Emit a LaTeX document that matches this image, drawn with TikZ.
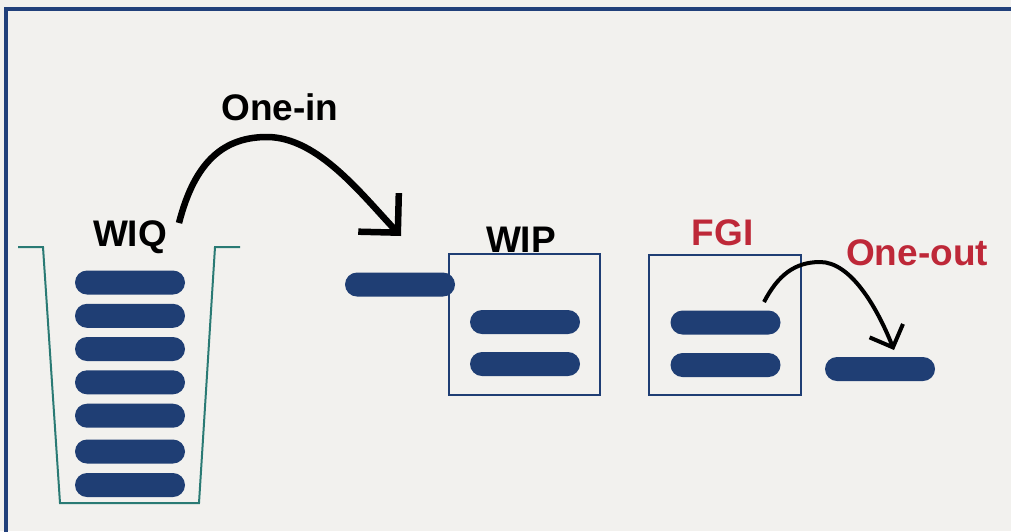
\documentclass[tikz,border=0pt]{standalone}
\usepackage{fontspec}
\setmainfont{Liberation Sans}
\usetikzlibrary{arrows.meta}

\definecolor{paper}{RGB}{242,241,238}
\definecolor{navy}{RGB}{31,62,116}
\definecolor{framec}{RGB}{33,64,122}
\definecolor{bucket}{RGB}{42,122,116}
\definecolor{alert}{RGB}{190,40,56}

\tikzset{
  pill/.style={rectangle, fill=navy, minimum width=110pt, minimum height=24pt,
               rounded corners=12pt, inner sep=0pt},
  stagebox/.style={rectangle, draw=navy, line width=2pt, inner sep=0pt},
  stagelabel/.style={font=\fontsize{37}{42}\selectfont\bfseries, anchor=base, inner sep=0pt},
  flowarrow/.style={line width=6.5pt, -{Straight Barb[length=28pt,width=56pt]}},
  smallflow/.style={line width=4pt, -{Straight Barb[length=18pt,width=36pt]}}
}

\begin{document}
\begin{tikzpicture}[x=1pt,y=-1pt]
  % page and outer frame
  \useasboundingbox (0,0) rectangle (1011,531);
  \clip (0,0) rectangle (1011,531);
  \fill[paper] (0,0) rectangle (1011,531);
  \draw[framec, line width=4pt] (5.5,8.5) rectangle (1030,560);

  % waiting-in-queue bucket
  \draw[bucket, line width=2pt] (18,247) -- (43,247) -- (60,503) -- (199,503)
        -- (215,247) -- (240,247);
  \node[stagelabel] (wiq) at (130,246) {WIQ};
  \foreach \i/\y in {1/282.5,2/315.8,3/349,4/382.3,5/415.7,6/451.5,7/485}
    \node[pill] (q\i) at (130,\y) {};

  % work-in-process box
  \node[stagebox, minimum width=151pt, minimum height=141pt] (wip) at (524.5,324.5) {};
  \node[stagelabel] (wiplab) at (521,252) {WIP};
  \node[pill] (p1) at (525,322) {};
  \node[pill] (p2) at (525,364) {};

  % item entering
  \node[pill] (inpill) at (400,284.5) {};

  % finished goods box
  \node[stagebox, minimum width=152pt, minimum height=140pt] (fgi) at (725,325) {};
  \node[stagelabel, text=alert] (fgilab) at (722.5,245) {FGI};
  \node[pill] (f1) at (725.5,322.5) {};
  \node[pill] (f2) at (725.5,365) {};

  % item leaving
  \node[pill] (outpill) at (880,369) {};

  % one-in arrow
  \node[stagelabel] (inlab) at (280,120) {One-in};
  \coordinate (inA) at (179,223);
  \coordinate (inTop) at (267,137);
  \coordinate (inB) at (401,236);
  \draw[flowarrow] (inA) .. controls (195,160) and (225,137) .. (inTop)
        .. controls (318,137) and (362,195) .. (inB);

  % one-out arrow
  \node[stagelabel, text=alert] (outlab) at (917,265) {One-out};
  \coordinate (outA) at (764,302);
  \coordinate (outTop) at (820,262);
  \coordinate (outB) at (894,350);
  \draw[smallflow] (outA) .. controls (778,275) and (795,262) .. (outTop)
        .. controls (850,262) and (876,305) .. (outB);
\end{tikzpicture}
\end{document}
